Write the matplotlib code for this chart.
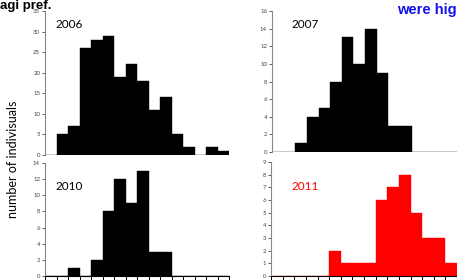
# -*- coding: utf-8 -*-
"""
Histograms of individuals per size class, 2006/2007/2010/2011.
"""
import numpy as np
import matplotlib.pyplot as plt

plt.rcParams['font.family'] = ['Lato', 'DejaVu Sans']

# counts per bin (16 bins, left to right)
n2006 = [0, 5, 7, 26, 28, 29, 19, 22, 18, 11, 14, 5, 2, 0, 2, 1]
n2007 = [0, 0, 1, 4, 5, 8, 13, 10, 14, 9, 3, 3, 0, 0, 0, 0]
n2010 = [0, 0, 1, 0, 2, 8, 12, 9, 13, 3, 3, 0, 0, 0, 0, 0]
n2011 = [0, 0, 0, 0, 0, 2, 1, 1, 1, 6, 7, 8, 5, 3, 3, 1]

years = ['2006', '2007', '2010', '2011']
ymax = [35, 16, 14, 9]
ystep = [5, 2, 2, 1]
colors = ['black', 'black', 'black', 'red']

W, H = 457, 280
# panel boxes in pixels: left, right, y of zero, y of top tick
boxes = [(45, 229, 155, 11), (272, 458, 152, 11),
         (45, 229, 276, 163), (271, 457, 276, 162)]
# year label positions in pixels: left, vertical centre
label_pos = [(55, 25), (292, 25), (55, 187), (292, 187)]


def panel(fig, box, counts, top, step, color, xaxis):
    """Draw one histogram panel."""
    x0, x1, yb, yt = box
    ax = fig.add_axes([x0 / W, (H - yb) / H, (x1 - x0) / W, (yb - yt) / H])
    bins = np.arange(len(counts))
    ax.bar(bins, counts, width=1.0, align='edge', color=color,
           edgecolor=color, linewidth=0.3)
    ax.set_xlim(0, len(counts))
    ax.set_ylim(0, top)
    ax.set_yticks(np.arange(0, top + 0.1, step))
    ax.tick_params(axis='y', labelsize=4.3, colors='#444444', length=2,
                   width=0.6, pad=1.5)
    for s in ['top', 'right']:
        ax.spines[s].set_visible(False)
    ax.spines['left'].set_color('#888888')
    ax.spines['left'].set_linewidth(0.8)
    if xaxis:
        ax.spines['bottom'].set_color('black')
        ax.spines['bottom'].set_linewidth(0.8)
        ax.set_xticks(np.arange(0, len(counts) + 1))
        ax.tick_params(axis='x', direction='out', length=4, width=0.7,
                       labelbottom=False)
    else:
        ax.spines['bottom'].set_visible(False)
        ax.set_xticks([])
    ax.patch.set_alpha(0)
    return ax


fig = plt.figure(figsize=(W / 100, H / 100), dpi=100)
data = [n2006, n2007, n2010, n2011]
for i in range(4):
    panel(fig, boxes[i], data[i], ymax[i], ystep[i], colors[i], i >= 2)
    lx, ly = label_pos[i]
    fig.text(lx / W, (H - ly) / H, years[i], fontsize=8.5, color=colors[i],
             va='center', ha='left')

fig.text(0.0, 1.0, 'agi pref.', fontsize=9.5, fontweight='bold',
         family=['Liberation Sans'], va='top', ha='left')
fig.text(397 / W, 0.99, 'were hig', fontsize=10.5, fontweight='bold',
         family=['Liberation Sans'], color='#1010ee', va='top', ha='left')
fig.text(13 / W, (H - 159) / H, 'number of indivisuals', rotation=90,
         fontsize=9, va='center', ha='center')

fig.savefig('out.png', dpi=100)
